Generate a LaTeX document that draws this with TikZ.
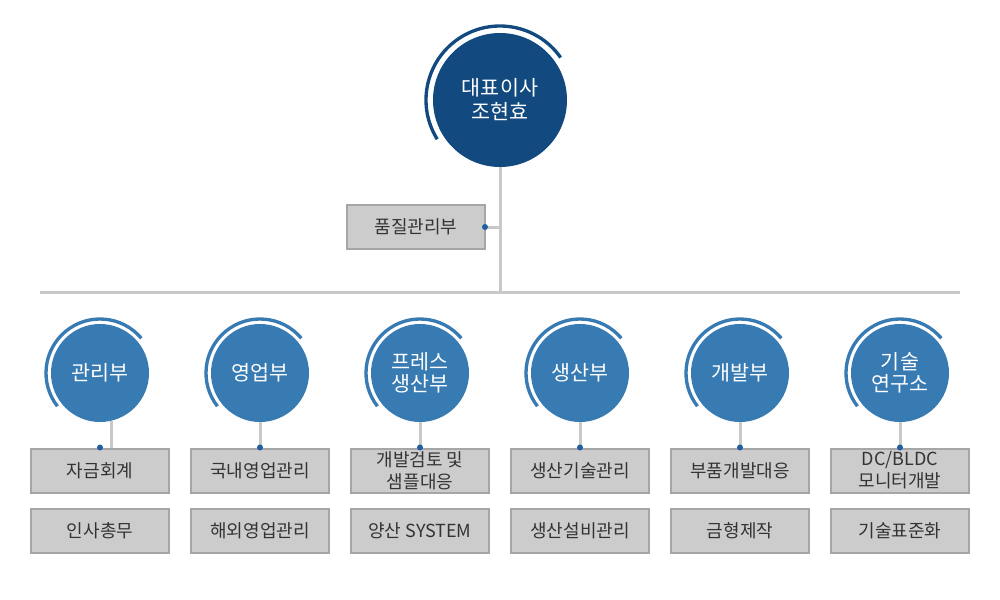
\documentclass[tikz,border=0pt]{standalone}
\usepackage{fontspec}
\setmainfont{Noto Sans CJK KR}
\usepackage{tikz}
\usetikzlibrary{positioning}

\definecolor{ceoblue}{RGB}{18,74,128}
\definecolor{deptblue}{RGB}{56,122,178}
\definecolor{boxgray}{RGB}{204,204,204}
\definecolor{boxline}{RGB}{166,166,166}
\definecolor{linkgray}{RGB}{200,200,200}
\definecolor{dotblue}{RGB}{30,95,160}
\definecolor{textgray}{RGB}{51,51,51}

\begin{document}
\begin{tikzpicture}[x=0.75pt,y=-0.75pt,
  ceo/.style={circle, fill=ceoblue, minimum size=100.5pt, inner sep=0pt, text=white, font=\fontsize{15.5}{18}\selectfont, align=center},
  dept/.style={circle, fill=deptblue, minimum size=73.5pt, inner sep=0pt, text=white, font=\fontsize{15.5}{16.5}\selectfont, align=center},
  team/.style={rectangle, fill=boxgray, draw=boxline, line width=1.5pt, minimum width=103.5pt, minimum height=33pt, inner sep=0pt, text=textgray, font=\fontsize{13.5}{16.5}\selectfont, align=center},
  link/.style={draw=linkgray, line width=2.25pt},
  ring/.style={line width=2.5pt},
  pin/.style={circle, fill=dotblue, inner sep=0pt, minimum size=4.5pt}]
  \useasboundingbox (0,0) rectangle (1000,600); %page is 1000 x 600

  % top
  \node [ceo] (ceo) at (500,100) {대표이사\\조현효};
  \draw [ceoblue, ring] (ceo) ++(35:55.5pt) arc [start angle=35, end angle=212, radius=55.5pt];
  \node [team] (qa) at (416,227) {품질관리부};

  \coordinate (hl) at (40,292);
  \coordinate (hr) at (960,292);
  \draw [link] (ceo) -- (ceo |- hl);
  \draw [link] (hl) -- (hr);
  \draw [link] (qa) -- (qa -| ceo);
  \node [pin] (qadot) at ([xshift=-0.75pt]qa.east) {};

  % departments
  \node [dept] (admin) at (100,373) {관리부};
  \node [dept] (sales) at (260,373) {영업부};
  \node [dept] (press) at (420,373) {프레스\\생산부};
  \node [dept] (prod) at (580,373) {생산부};
  \node [dept] (dev) at (740,373) {개발부};
  \node [dept] (lab) at (900,373) {기술\\연구소};

  \draw [deptblue, ring] (admin) ++(40:40.5pt) arc [start angle=40, end angle=218, radius=40.5pt];
  \draw [deptblue, ring] (sales) ++(40:40.5pt) arc [start angle=40, end angle=218, radius=40.5pt];
  \draw [deptblue, ring] (press) ++(40:40.5pt) arc [start angle=40, end angle=218, radius=40.5pt];
  \draw [deptblue, ring] (prod) ++(40:40.5pt) arc [start angle=40, end angle=218, radius=40.5pt];
  \draw [deptblue, ring] (dev) ++(40:40.5pt) arc [start angle=40, end angle=218, radius=40.5pt];
  \draw [deptblue, ring] (lab) ++(40:40.5pt) arc [start angle=40, end angle=218, radius=40.5pt];

  % teams
  \node [team] (admin1) at (100,470.5) {자금회계};
  \node [team] (admin2) at (100,530.5) {인사총무};
  \node [team] (sales1) at (260,470.5) {국내영업관리};
  \node [team] (sales2) at (260,530.5) {해외영업관리};
  \node [team] (press1) at (420,470.5) {개발검토 및\\샘플대응};
  \node [team] (press2) at (420,530.5) {양산 SYSTEM};
  \node [team] (prod1) at (580,470.5) {생산기술관리};
  \node [team] (prod2) at (580,530.5) {생산설비관리};
  \node [team] (dev1) at (740,470.5) {부품개발대응};
  \node [team] (dev2) at (740,530.5) {금형제작};
  \node [team] (lab1) at (900,470.5) {DC/BLDC\\모니터개발};
  \node [team] (lab2) at (900,530.5) {기술표준화};

  \draw [link] (admin.-77) -- (admin.-77 |- admin1.north);
  \draw [link] (sales) -- (sales1);
  \draw [link] (press) -- (press1);
  \draw [link] (prod) -- (prod1);
  \draw [link] (dev) -- (dev1);
  \draw [link] (lab) -- (lab1);

  \node [pin] (admindot) at (admin1.north) {};
  \node [pin] (salesdot) at (sales1.north) {};
  \node [pin] (pressdot) at (press1.north) {};
  \node [pin] (proddot) at (prod1.north) {};
  \node [pin] (devdot) at (dev1.north) {};
  \node [pin] (labdot) at (lab1.north) {};

\end{tikzpicture}
\end{document}
